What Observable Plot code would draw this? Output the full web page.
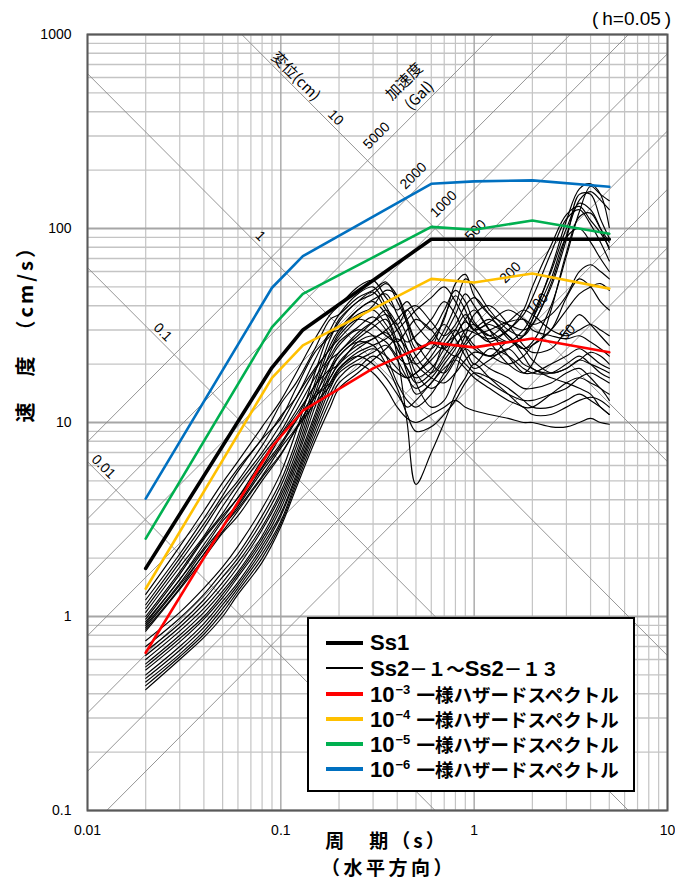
<!DOCTYPE html>
<html><head><meta charset="utf-8">
<script src="https://cdn.jsdelivr.net/npm/d3@7"></script>
<script src="https://cdn.jsdelivr.net/npm/@observablehq/plot@0.6"></script>
<style>
body{margin:0;background:#fff;}
#wrap{position:relative;width:675px;height:879px;overflow:hidden;}
#hval{position:absolute;right:4px;top:8px;font-family:"Liberation Sans",Arial,sans-serif;font-size:19px;line-height:22px;color:#000;white-space:nowrap;}
#legend{position:absolute;left:307px;top:617px;width:324px;height:171px;border:2px solid #000;background:#fff;font-family:"Liberation Sans",Arial,sans-serif;font-weight:700;font-size:22px;color:#000;}
.row{position:absolute;left:0;width:324px;height:24px;}
.sw{position:absolute;left:17px;width:37px;}
.lab{position:absolute;left:61px;top:0;line-height:24px;white-space:nowrap;}
.lab sup{font-size:13px;vertical-align:0;position:relative;top:-8px;margin-left:1px;}
.jp{font-family:"Noto Sans CJK JP",sans-serif;font-size:18.5px;}
</style></head>
<body><div id="wrap"></div>
<script>
// ---- tick labels ----
const xTickValues = [0.01, 0.1, 1, 10];
const xTickLabels = ["0.01", "0.1", "1", "10"];
const yTickValues = [0.1, 1, 10, 100, 1000];
const yTickLabels = ["0.1", "1", "10", "100", "1000"];

// ---- tripartite guide levels ----
const dispLevels = [0.01, 0.1, 1, 10];          // cm
const dispLabels = ["0.01", "0.1", "1", "10"];
const dispLabelT = [0.0121, 0.0245, 0.0784, 0.192];
const accLevels = [50, 100, 200, 500, 1000, 2000, 5000];   // Gal
const accLabels = ["50", "100", "200", "500", "1000", "2000", "5000"];
const accLabelT = [3.04, 2.13, 1.54, 1.016, 0.695, 0.485, 0.3127];

// ---- Ss1 ----
const ss1T = [0.02, 0.09, 0.13, 0.6, 5.0];
const ss1V = [1.77, 19.2, 30, 88, 88];

// ---- uniform hazard spectra ----
const hazT = [0.02, 0.09, 0.13, 0.3, 0.6, 1.0, 2.0, 5.0];
const haz3 = [0.65, 7.5, 11.5, 19, 25.8, 24.4, 27.1, 23];
const haz4 = [1.39, 17, 25, 38.5, 55, 52.7, 58.6, 49];
const haz5 = [2.52, 31, 46, 71, 102, 98.5, 110, 94];
const haz6 = [4.05, 49.5, 72, 115, 170, 175, 177, 164];

// ---- Ss2 (thin lines) ----
const ss2T = [0.02,0.03,0.04,0.05,0.06,0.08,0.10,0.12,0.15,0.18,0.20,0.25,0.30,0.35,0.40,0.45,0.50,0.60,0.70,0.80,0.90,1.0,1.2,1.5,1.8,2.0,2.5,3.0,3.5,4.0,4.5,5.0];
const s01 = [1.30,2.3,3.5,4.9,6.3,9.5,13,18,27,36,40,50, 54,44,38,42,36,30,38,48,42,33,28,26,30,36, 60,100,135,125,100,78];
const s02 = [1.22,2.1,3.2,4.5,5.8,8.3,12.5,16,24,34,36,44, 48,53,42,33,26,24,30,40,55,50,38,30,28,32, 50,88,150,150,112,89];
const s03 = [1.15,2.0,3.0,4.2,5.6,8.2,10.5,15,23,28,34,42, 47,38,32,38,40,33,28,32,40,44,36,27,24,26, 40,72,122,165,150,139];
const s04 = [1.10,1.9,2.85,4.0,5.0,7.6,10.8,13.5,21,29,30,38, 43,46,36,28,22,18,22,28,33,30,26,30,36,44, 75,112,125,105,85,68];
const s05 = [1.05,1.8,2.6,3.7,4.8,7.0,9.8,13.5,19,24,29,36, 38,32,26,22,20,24,35,45,38,30,32,28,24,25, 30,44,55,50,42,38];
const s06 = [1.00,1.7,2.55,3.4,4.5,6.7,9.0,12.5,18.5,24,27,34, 40,48,45,34,26,20,18,22,28,36,40,32,25,23, 24,30,36,32,28,25];
const s07 = [0.97,1.65,2.5,3.3,4.1,6.4,8.7,11.5,17,22,26,31, 35,30,24,19,16,18,26,30,24,20,24,22,19,18, 18,20,22,20,18,17];
const s08 = [0.94,1.55,2.35,3.2,4.1,5.9,8.5,11,15.5,21,23,29, 33,36,30,22,16,12,13,18,24,22,19,17,15,15, 16,18,19,17,15,14];
const s09 = [0.92,1.55,2.25,3.1,3.8,5.8,7.8,10.5,15.5,19,22,27, 31,34,22,10,4.8,7,10,14,17,20,17,14,12,12, 14,16,17,16,15,13];
const s10 = [0.90,1.48,2.2,2.9,3.7,5.6,7.6,10.2,14,18.5,20,26, 28,26,22,20,22,27,32,27,22,19,21,24,20,19, 17,16,15,14,12,11];
const s11 = [0.88,1.45,2.1,2.9,3.6,5.3,7.4,9.4,13.5,17,20.5,25, 27,30,34,38,32,26,24,28,34,38,30,26,28,34, 55,90,100,85,70,60];
const s12 = [0.86,1.4,2.1,2.75,3.5,5.2,6.9,9.3,13.5,16,19,23, 25,27,30,34,38,44,50,42,34,30,33,38,34,30, 28,27,28,26,24,22];
const s13 = [0.84,1.38,2.0,2.7,3.3,5.0,6.8,9.2,12.5,15.5,18.5,22, 24,22,19,17,18,22,28,36,46,40,30,22,18,18, 20,22,24,22,20,19];
const s14 = [0.75,1.05,1.4,1.8,2.3,3.6,5.5,9,18,30,36,46, 50,40,30,26,28,34,42,36,28,24,22,24,28,34, 62,110,160,170,150,101];
const s15 = [0.70,0.98,1.3,1.7,2.1,3.3,5.0,8,16,27,33,42, 46,52,45,32,24,26,34,52,58,45,36,32,30,32, 52,92,140,155,140,125];
const s16 = [0.66,0.92,1.22,1.6,2.0,3.1,4.7,7.5,15,25,30,38, 42,36,26,18,14,16,20,24,30,32,26,20,18,20, 38,75,115,120,100,85];
const s17 = [0.63,0.88,1.16,1.5,1.9,2.9,4.4,7,14,23,28,34, 32,28,26,30,34,30,24,22,25,28,30,33,34,32, 36,45,60,65,60,55];
const s18 = [0.60,0.84,1.1,1.42,1.8,2.8,4.2,6.6,13,21,25,30, 28,22,16,13,12,14,18,22,20,18,16,14,13,13, 14,15,17,18,17,16];
const s19 = [0.57,0.80,1.05,1.35,1.7,2.6,4.0,6.3,12,19,23,28, 33,38,32,24,18,15,17,21,26,30,34,28,22,19, 18,19,21,20,19,18];
const s20 = [0.55,0.77,1.0,1.3,1.65,2.5,3.8,6.0,11,18,22,26, 25,20,15,11,9,9.5,11,13,16,18,17,15,13,12, 12,13,14,13,12,11];
const s21 = [0.53,0.74,0.97,1.25,1.6,2.4,3.6,5.7,10.5,17,20,24, 27,29,24,19,17,19,24,30,36,32,28,33,38,36, 30,28,30,32,30,28];
const s22 = [0.50,0.70,0.92,1.2,1.5,2.3,3.4,5.4,10,16,19,22, 20,17,14,12,13,16,19,21,19,17,15,13,12,11, 11,12,13,13.5,13,12];
const s23 = [0.48,0.67,0.88,1.15,1.45,2.2,3.3,5.2,9.5,15,18,21, 23,25,21,17,15,17,21,25,28,25,22,26,24,21, 18,19,21,23,22,20];
const s24 = [0.46,0.64,0.84,1.1,1.4,2.1,3.1,5.0,9,14,17,20, 18,15,12,10.5,10,11,12,13,12,11.5,11,10.5,10,10, 9.5,9.5,10,10.5,10,9.8];
const s25 = [0.44,0.62,0.81,1.05,1.35,2.0,3.0,4.8,8.5,13,16,19, 22,20,18,17,18,21,25,28,30,29,27,30,38,50, 82,118,130,110,95,80];
const s26 = [0.42,0.60,0.78,1.0,1.3,1.9,2.9,4.6,8,12,15,18, 21,24,27,24,20,17,16,18,21,23,22,20,22,25, 30,38,46,50,52,48];

const ss2List = [s01,s02,s03,s04,s05,s06,s07,s08,s09,s10,s11,s12,s13,s14,s15,s16,s17,s18,s19,s20,s21,s22,s23,s24,s25,s26];
const ss2Rows = ss2List.flatMap((vals, k) => ss2T.map((t, i) => ({t, v: vals[i], s: k})));
const pts = (T, V) => T.map((t, i) => ({t, v: V[i]}));

// grid values
const decadesX = [0.01, 0.1, 1];
const decadesY = [0.1, 1, 10, 100];
const xMinor = decadesX.flatMap(d => d3.range(2, 10).map(k => k * d));
const yMinor = decadesY.flatMap(d => d3.range(2, 10).map(k => k * d));

const TWO_PI = 2 * Math.PI;
const dispRows = dispLevels.flatMap(D => [0.001, 100].map(t => ({t, v: TWO_PI * D / t, D})));
const accRows = accLevels.flatMap(A => [0.001, 100].map(t => ({t, v: A * t / TWO_PI, A})));
const dispLab = dispLevels.map((D, i) => ({t: dispLabelT[i], v: TWO_PI * D / dispLabelT[i], txt: dispLabels[i]}));
const accLab = accLevels.map((A, i) => ({t: accLabelT[i], v: A * accLabelT[i] / TWO_PI, txt: accLabels[i]}));
const dispTitleT = 0.1193;
const accTitleT = 0.5207;

const jp = '"Noto Sans CJK JP", sans-serif';
const lat = '"Liberation Sans", Arial, sans-serif';
const xTitle = "周　期（s）";
const xSub = "（水平方向）";
const yTitle = "速　度　（cm/s）";

const chart = Plot.plot({
  width: 675, height: 879,
  marginLeft: 87, marginRight: 8, marginTop: 34, marginBottom: 69,
  x: {type: "log", domain: [0.01, 10], axis: null},
  y: {type: "log", domain: [0.1, 1000], axis: null},
  style: {fontFamily: lat, background: "#fff", color: "#000", fontSize: "13px"},
  marks: [
    Plot.ruleX(xMinor, {stroke: "#c4c4c4", strokeWidth: 1.2}),
    Plot.ruleY(yMinor, {stroke: "#c4c4c4", strokeWidth: 1.4}),
    Plot.ruleX(xTickValues, {stroke: "#a6a6a6", strokeWidth: 1.4}),
    Plot.ruleY(yTickValues, {stroke: "#a6a6a6", strokeWidth: 2}),
    Plot.line(dispRows, {x: "t", y: "v", z: "D", stroke: "#8a8a8a", strokeWidth: 0.9, clip: true}),
    Plot.line(accRows, {x: "t", y: "v", z: "A", stroke: "#8a8a8a", strokeWidth: 0.9, clip: true}),
    Plot.text(dispLab, {x: "t", y: "v", text: "txt", rotate: 45, dy: -11, fontSize: "14px", fill: "#000"}),
    Plot.text(accLab, {x: "t", y: "v", text: "txt", rotate: -45, dy: -16, fontSize: "14px", fill: "#000"}),
    Plot.text([{t: dispTitleT, v: TWO_PI * 10 / dispTitleT}], {x: "t", y: "v", text: () => "変位(cm)", rotate: 45, dy: -12, fontSize: "15px", fontFamily: jp, fill: "#000"}),
    Plot.text([{t: accTitleT, v: 5000 * accTitleT / TWO_PI}], {x: "t", y: "v", text: () => "(Gal)", rotate: -45, dy: -13, fontSize: "15px", fontFamily: jp, fill: "#000"}),
    Plot.text([{t: accTitleT, v: 5000 * accTitleT / TWO_PI}], {x: "t", y: "v", text: () => "加速度", rotate: -45, dx: -15, dy: -27, fontSize: "15px", fontFamily: jp, fill: "#000"}),
    Plot.line(ss2Rows, {x: "t", y: "v", z: "s", stroke: "#000", strokeWidth: 1.15, curve: "catmull-rom"}),
    Plot.line(pts(hazT, haz3), {x: "t", y: "v", stroke: "#ff0000", strokeWidth: 2.6}),
    Plot.line(pts(hazT, haz4), {x: "t", y: "v", stroke: "#ffc000", strokeWidth: 2.6}),
    Plot.line(pts(hazT, haz5), {x: "t", y: "v", stroke: "#00b050", strokeWidth: 2.6}),
    Plot.line(pts(hazT, haz6), {x: "t", y: "v", stroke: "#0070c0", strokeWidth: 2.6}),
    Plot.line(pts(ss1T, ss1V), {x: "t", y: "v", stroke: "#000", strokeWidth: 3.6}),
    Plot.frame({stroke: "#595959", strokeWidth: 2}),
    // tick labels
    Plot.text(xTickValues, {x: d => d, text: (d, i) => xTickLabels[i], frameAnchor: "bottom", lineAnchor: "middle", dy: 20, fontSize: "14px", fill: "#000"}),
    Plot.text(yTickValues, {y: d => d, text: (d, i) => yTickLabels[i], frameAnchor: "left", lineAnchor: "middle", dx: -16, textAnchor: "end", fontSize: "14px", fill: "#000"}),
    // axis titles
    Plot.text([yTitle], {frameAnchor: "left", lineAnchor: "middle", dx: -61, rotate: -90, fontSize: "20px", fontWeight: "bold", fontFamily: jp, fill: "#000"}),
    Plot.text([xTitle], {frameAnchor: "bottom", lineAnchor: "middle", dx: 9, dy: 31, fontSize: "19px", fontWeight: "bold", fontFamily: jp, fill: "#000"}),
    Plot.text([xSub], {frameAnchor: "bottom", lineAnchor: "middle", dx: 11, dy: 58, fontSize: "19px", fontWeight: "bold", fontFamily: jp, fill: "#000"})
  ]
});
// widen the spacing of the axis titles a little, as in the original
d3.select(chart).selectAll("text").each(function() {
  const t = this.textContent;
  if (t === yTitle) this.setAttribute("letter-spacing", "3");
  if (t === xTitle) this.setAttribute("letter-spacing", "3");
  if (t === xSub) this.setAttribute("letter-spacing", "3.5");
});
const wrap = document.getElementById("wrap");
wrap.appendChild(chart);

const hv = document.createElement("div");
hv.id = "hval";
hv.textContent = "(\u2009h=0.05\u2009)";
wrap.appendChild(hv);

// legend
const legendItems = [
  {color: "#000", w: 4.5, html: "Ss1"},
  {color: "#000", w: 1.6, html: "Ss2<span class='jp'>－１～</span>Ss2<span class='jp'>－１３</span>"},
  {color: "#ff0000", w: 3.2, html: "10<sup>−3</sup> <span class='jp'>一様ハザードスペクトル</span>"},
  {color: "#ffc000", w: 3.2, html: "10<sup>−4</sup> <span class='jp'>一様ハザードスペクトル</span>"},
  {color: "#00b050", w: 3.2, html: "10<sup>−5</sup> <span class='jp'>一様ハザードスペクトル</span>"},
  {color: "#0070c0", w: 3.2, html: "10<sup>−6</sup> <span class='jp'>一様ハザードスペクトル</span>"}
];
const legendRowCenters = [24, 49, 75, 100, 125, 150];
const lg = document.createElement("div");
lg.id = "legend";
legendItems.forEach((it, i) => {
  const r = document.createElement("div");
  r.className = "row";
  r.style.top = (legendRowCenters[i] - 12) + "px";
  const sw = document.createElement("div");
  sw.className = "sw";
  sw.style.height = it.w + "px";
  sw.style.top = (12 - it.w / 2) + "px";
  sw.style.background = it.color;
  const lb = document.createElement("div");
  lb.className = "lab";
  lb.innerHTML = it.html;
  r.appendChild(sw); r.appendChild(lb);
  lg.appendChild(r);
});
wrap.appendChild(lg);
</script>
</body></html>
